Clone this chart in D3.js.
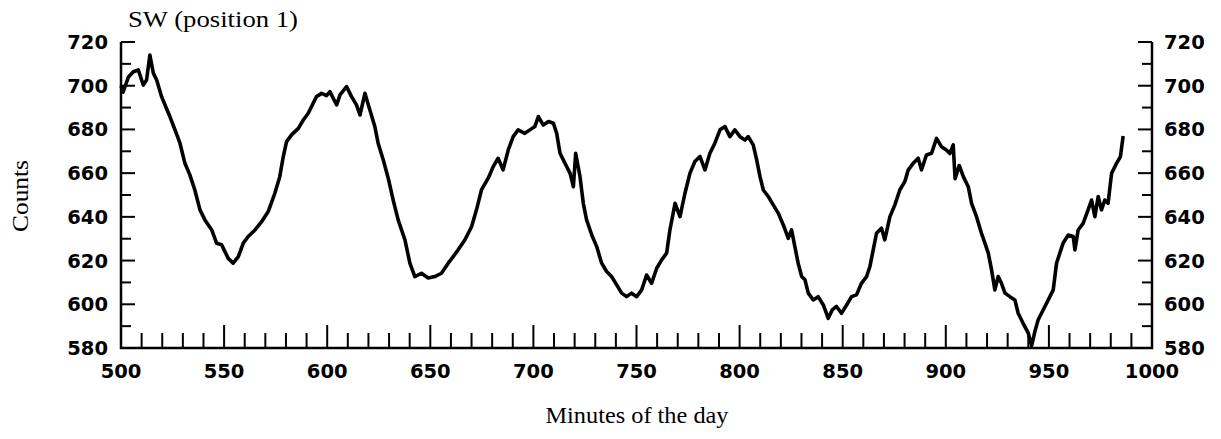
<!DOCTYPE html>
<html>
<head>
<meta charset="utf-8">
<script src="https://cdn.jsdelivr.net/npm/d3@7"></script>
<style>
  body { margin: 0; background: #fff; }
  svg { display: block; }
  .tick-label { font-family: "DejaVu Sans", sans-serif; font-weight: bold; font-size: 19.5px; fill: #000; }
  .serif { font-family: "Liberation Serif", "Times New Roman", serif; fill: #000; }
</style>
</head>
<body>
<svg id="chart"></svg>
<script>
// data (minutes of the day vs counts)
var minutes = [
  500, 501, 503.6, 506, 508.4, 510.8, 512.4, 514, 515.7, 517.3,
  519.7, 522, 523.7, 526.2, 528.6, 531, 533.4, 535.8, 538.3, 540.7,
  544, 546.4, 548.8, 550.4, 552, 554.4, 556.9, 559.3, 561.7, 565,
  568.2, 571.4, 574.6, 577, 578.7, 580.3, 582.7, 586, 588.4, 590.8,
  593.2, 594.8, 597.3, 599.7, 601.3, 604.6, 606.2, 609.4, 611.8, 614.2,
  615.9, 618.3, 620.7, 623.1, 624.7, 627.2, 629.6, 632, 634.4, 637.7,
  640.1, 642.5, 645.7, 649, 652.2, 655.4, 658.7, 661.1, 663.5, 666.8,
  670, 672.4, 674.8, 678.1, 680.5, 682.9, 685.3, 687.8, 690.2, 692.6,
  695.8, 698.3, 700.7, 702.4, 704.8, 707.3, 709.7, 711.3, 712.9, 715.3,
  717.8, 719.4, 720.5, 722.6, 724.2, 725.8, 728.3, 730.7, 733.1, 735.5,
  737.9, 740.4, 742.8, 745.2, 747.6, 750.1, 752.5, 754.9, 757.3, 759.8,
  762.2, 764.6, 766.2, 768.7, 771.1, 773.5, 775.9, 778.3, 780.8, 783.2,
  785.6, 788, 790.5, 792.9, 795.3, 797.7, 800.2, 802.6, 804.2, 806.6,
  808.3, 809.9, 811.5, 813.9, 816.3, 818.8, 821.2, 823.6, 825.2, 826.8,
  828.4, 830.1, 831.7, 833.3, 835.7, 838.1, 840.6, 843, 844.9, 847,
  849.4, 851.9, 854.3, 856.7, 859.1, 861.6, 863.2, 864.8, 866.4, 868.8,
  870.4, 872.9, 875.3, 877.7, 880.1, 881.8, 884.2, 886.6, 888.2, 890.6,
  893.1, 895.5, 897.9, 900.3, 902, 903.6, 904.5, 906.5, 908.5, 910.9,
  912.5, 914.9, 917.3, 919, 920.6, 922.2, 923.8, 925.4, 927, 928.7,
  931.1, 933.5, 935.1, 937.5, 940, 941.6, 943.2, 944.8, 947.2, 949.7,
  952.1, 953.7, 955.3, 956.9, 959.4, 961.8, 962.6, 964.2, 966.6, 969,
  970.7, 972.3, 973.9, 975.5, 977.1, 978.7, 980.4, 982.8, 984.7, 986
];
var counts = [
  700, 697, 704, 706.4, 707.2, 700.3, 702.6, 714, 705.7, 702.6,
  695, 689.7, 685.9, 679.8, 673.7, 664.5, 659.2, 652.3, 643.2, 638.6,
  634, 627.9, 627.2, 624.1, 621, 618.8, 621.8, 628, 631, 634,
  637.8, 642.4, 650.8, 658.4, 667.6, 674.4, 677.5, 680.5, 684.3, 687.4,
  692, 695, 696.5, 695.5, 697.3, 691.2, 695.8, 699.6, 695, 691.2,
  686.6, 696.5, 688.9, 681.3, 673.7, 666, 657.7, 647.7, 638.6, 629.5,
  618.8, 612.7, 614.2, 612, 612.7, 614.2, 618.8, 621.8, 624.9, 629.5,
  635.5, 643.2, 652.3, 657.7, 663, 666.8, 661.5, 670.6, 676.7, 679.8,
  678.2, 679.8, 681.3, 685.9, 682, 683.6, 682.8, 678.2, 669.1, 664.5,
  659.9, 653.8, 669.1, 658.4, 646.2, 638.6, 631.7, 626.4, 618.8, 615,
  612.7, 608.9, 605.1, 603.5, 605.1, 603.5, 606.6, 613.4, 609.6, 616.5,
  620.3, 623.4, 634, 646.2, 640.1, 650.8, 659.9, 665.3, 667.6, 661.5,
  669.1, 673.7, 679.8, 681.3, 676.7, 679.8, 676.7, 675.2, 676.7, 672.9,
  666, 658.4, 652.3, 649.3, 645.5, 641.6, 636.3, 630.2, 634, 626.4,
  618.8, 612.7, 611.2, 605.1, 602, 603.5, 599.7, 593.6, 597.4, 599,
  595.9, 599.7, 603.5, 604.3, 609.6, 612.7, 617.3, 624.9, 632.5, 634.8,
  629.5, 640.1, 645.5, 652.3, 656.1, 661.5, 664.5, 666.8, 661.5, 668.3,
  669.1, 675.9, 672.1, 670.6, 669, 672.9, 657.5, 663.5, 658.4, 653.8,
  646.2, 640.1, 632.5, 627.9, 623.4, 615.7, 606.6, 612.7, 609.6, 605.1,
  603.5, 602, 595.9, 591.3, 586.8, 581, 587.5, 592.9, 597.4, 602,
  606.6, 618.8, 623.4, 628, 631.7, 631, 624.9, 634, 637, 643.2,
  647.7, 640.1, 649.3, 643.2, 647.7, 646.2, 659.9, 664.5, 667.6, 677
];
var xTickLabels = [500, 550, 600, 650, 700, 750, 800, 850, 900, 950, 1000];
var yTickLabels = [580, 600, 620, 640, 660, 680, 700, 720];

var svgWidth = 1221, svgHeight = 439;
var margin = { top: 42, right: 69, bottom: 91, left: 121 };

var svg = d3.select('#chart')
    .attr('width', svgWidth)
    .attr('height', svgHeight);

var x = d3.scaleLinear().domain([500, 1000]).range([margin.left, svgWidth - margin.right]);
var y = d3.scaleLinear().domain([580, 720]).range([svgHeight - margin.bottom, margin.top]);

var data = minutes.map(function(m, i) { return { m: m, c: counts[i] }; });

// minor/major ticks
var xMinor = d3.range(510, 1000, 10);
var yMinor = d3.range(590, 721, 10);
var g = svg.append('g').attr('stroke', '#000').attr('stroke-width', 2);

g.selectAll('.xt').data(xMinor).enter().append('line')
    .attr('x1', function(d) { return x(d); })
    .attr('x2', function(d) { return x(d); })
    .attr('y1', y(580))
    .attr('y2', function(d) { return y(580) - (d % 50 === 0 ? 23 : 15); });

// left ticks point right, right ticks point left
g.selectAll('.yl').data(yMinor).enter().append('line')
    .attr('x1', x(500))
    .attr('x2', function(d) { return x(500) + (d % 20 === 0 ? 14 : 10); })
    .attr('y1', function(d) { return y(d); })
    .attr('y2', function(d) { return y(d); });

g.selectAll('.yr').data(yMinor).enter().append('line')
    .attr('x1', x(1000))
    .attr('x2', function(d) { return x(1000) - (d % 20 === 0 ? 14 : 10); })
    .attr('y1', function(d) { return y(d); })
    .attr('y2', function(d) { return y(d); });

// axis frame (no top)
svg.append('path')
    .attr('d', 'M' + x(500) + ',' + y(720) + 'V' + y(580) + 'H' + x(1000) + 'V' + y(720))
    .attr('fill', 'none')
    .attr('stroke', '#000')
    .attr('stroke-width', 2.5);

// the trace
var line = d3.line()
    .x(function(d) { return x(d.m); })
    .y(function(d) { return y(d.c); });

svg.append('path')
    .datum(data)
    .attr('d', line)
    .attr('fill', 'none')
    .attr('stroke', '#000')
    .attr('stroke-width', 3.6)
    .attr('stroke-linejoin', 'round');

// tick labels
svg.selectAll('.xl').data(xTickLabels).enter().append('text')
    .attr('class', 'tick-label')
    .attr('x', function(d) { return x(d); })
    .attr('y', y(580) + 30)
    .attr('text-anchor', 'middle')
    .text(function(d) { return d; });

svg.selectAll('.ylab').data(yTickLabels).enter().append('text')
    .attr('class', 'tick-label')
    .attr('x', x(500) - 13)
    .attr('y', function(d) { return y(d) + 7; })
    .attr('text-anchor', 'end')
    .text(function(d) { return d; });

svg.selectAll('.yrab').data(yTickLabels).enter().append('text')
    .attr('class', 'tick-label')
    .attr('x', x(1000) + 12)
    .attr('y', function(d) { return y(d) + 7; })
    .attr('text-anchor', 'start')
    .text(function(d) { return d; });

// titles
svg.append('text')
    .attr('class', 'serif')
    .attr('x', 128)
    .attr('y', 27)
    .style('font-size', '23px')
    .attr('textLength', 170)
    .attr('lengthAdjust', 'spacingAndGlyphs')
    .text('SW (position 1)');

svg.append('text')
    .attr('class', 'serif')
    .attr('x', 637)
    .attr('y', 423)
    .attr('text-anchor', 'middle')
    .style('font-size', '23px')
    .attr('textLength', 183)
    .attr('lengthAdjust', 'spacingAndGlyphs')
    .text('Minutes of the day');

svg.append('text')
    .attr('class', 'serif')
    .attr('transform', 'translate(28,196) rotate(-90)')
    .attr('text-anchor', 'middle')
    .style('font-size', '23px')
    .attr('textLength', 72)
    .attr('lengthAdjust', 'spacingAndGlyphs')
    .text('Counts');
</script>
</body>
</html>
